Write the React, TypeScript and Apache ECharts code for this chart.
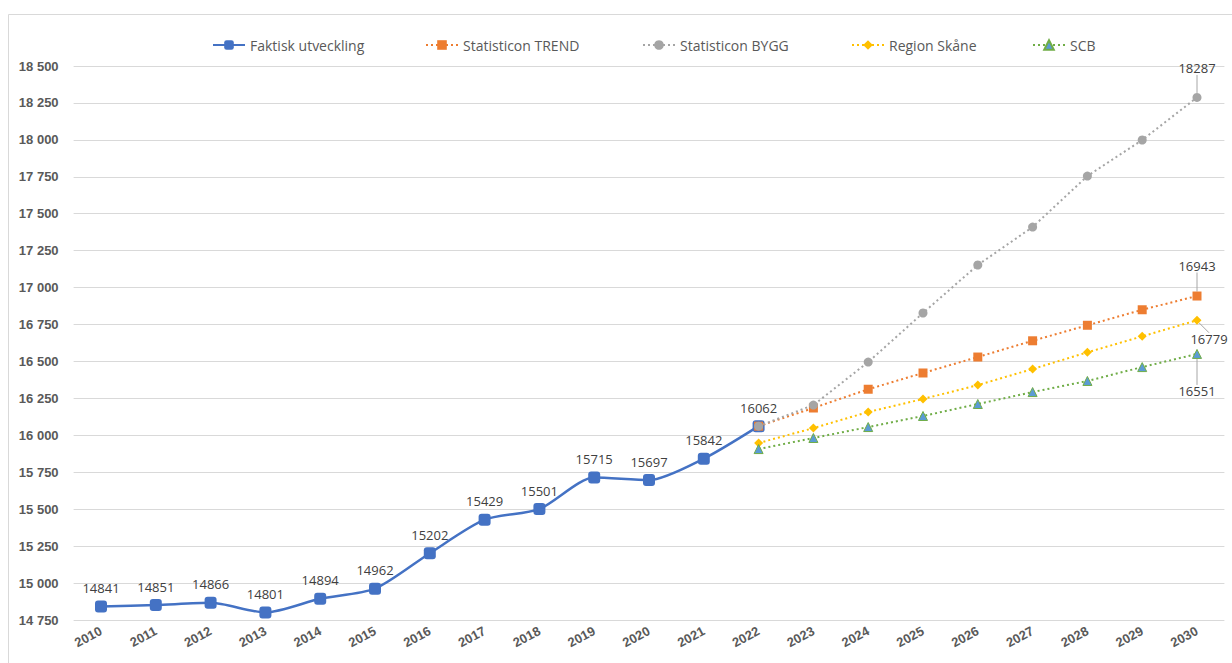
import React, { useEffect, useRef } from "react";
import * as echarts from "echarts";

const years = ["2010","2011","2012","2013","2014","2015","2016","2017","2018","2019","2020","2021","2022","2023","2024","2025","2026","2027","2028","2029","2030"];
const faktisk = [14841, 14851, 14866, 14801, 14894, 14962, 15202, 15429, 15501, 15715, 15697, 15842, 16062, null, null, null, null, null, null, null, null];
const pad = [null, null, null, null, null, null, null, null, null, null, null, null];
const trend = [...pad, 16062, 16185, 16312, 16422, 16530, 16640, 16745, 16850, 16943];
const bygg = [...pad, 16062, 16205, 16496, 16828, 17153, 17410, 17755, 17999, 18287];
const skane = [...pad, 15948, 16049, 16158, 16246, 16340, 16449, 16562, 16670, 16779];
const scb = [...pad, 15907, 15982, 16056, 16131, 16212, 16293, 16368, 16462, 16551];
const seriesNames = ["Faktisk utveckling", "Statisticon TREND", "Statisticon BYGG", "Region Skåne", "SCB"];
const legendLefts = [212, 425, 642, 851, 1032];

const font = "'Liberation Sans', Arial, sans-serif";
const labelFont = "'Open Sans', 'Liberation Sans', sans-serif";
const labelColor = "#404040";

function lastOnly(arr: (number | null)[], label: any) {
  return arr.map((v, i) => (i === arr.length - 1 ? { value: v, label } : v));
}

export default function App() {
  const ref = useRef<HTMLDivElement>(null);
  useEffect(() => {
    const chart = echarts.init(ref.current!, null, { renderer: "svg" });
    const dotted = (color: string) => ({ color, width: 2, type: [2, 3] as any });
    const endLabel = (position: string) => ({
      show: true,
      position,
      color: labelColor,
      fontSize: 13,
      fontFamily: labelFont,
    });
    const leader = { show: true, lineStyle: { color: "#a6a6a6", width: 1 } };
    chart.setOption({
      animation: false,
      textStyle: { fontFamily: font },
      graphic: [
        {
          type: "rect",
          shape: { x: 8.5, y: 14.5, width: 1300, height: 700 },
          style: { fill: "none", stroke: "#d9d9d9", lineWidth: 1 },
          silent: true,
        },
      ],
      legend: seriesNames.map((n, i) => ({
        top: 38,
        left: legendLefts[i],
        padding: 0,
        itemWidth: 32,
        itemHeight: 12,
        itemGap: 0,
        data: [n],
        textStyle: { color: "#595959", fontSize: 14, fontFamily: labelFont },
      })),
      grid: { left: 73.6, right: 7.6, top: 66, bottom: 43 },
      xAxis: {
        type: "category",
        data: years,
        boundaryGap: true,
        axisLine: { show: false },
        axisTick: { show: false },
        axisLabel: {
          rotate: 28,
          color: "#595959",
          fontWeight: "bold",
          fontSize: 13,
          fontFamily: font,
          margin: 10,
        },
      },
      yAxis: {
        type: "value",
        min: 14750,
        max: 18500,
        interval: 250,
        axisLine: { show: false },
        axisTick: { show: false },
        splitLine: { lineStyle: { color: "#d9d9d9", width: 1 } },
        axisLabel: {
          color: "#595959",
          fontWeight: "bold",
          fontSize: 13,
          fontFamily: font,
          margin: 15,
          formatter: (v: number) => String(v).replace(/\B(?=(\d{3})+(?!\d))/g, " "),
        },
      },
      series: [
        {
          name: seriesNames[0],
          type: "line",
          data: faktisk,
          smooth: 0.25,
          symbol: "roundRect",
          symbolSize: 12,
          color: "#4472c4",
          lineStyle: { color: "#4472c4", width: 2.5 },
          itemStyle: { color: "#4472c4" },
          label: { show: true, position: "top", distance: 6, color: labelColor, fontSize: 13, fontFamily: labelFont },
          z: 2,
        },
        {
          name: seriesNames[1],
          type: "line",
          data: lastOnly(trend, endLabel("top")),
          symbol: "rect",
          symbolSize: 9,
          color: "#ed7d31",
          lineStyle: dotted("#ed7d31"),
          itemStyle: { color: "#ed7d31" },
          labelLayout: { dy: -14 },
          labelLine: leader,
          z: 3,
        },
        {
          name: seriesNames[2],
          type: "line",
          data: lastOnly(bygg, endLabel("top")),
          symbol: "circle",
          symbolSize: 9,
          color: "#a5a5a5",
          lineStyle: dotted("#a5a5a5"),
          itemStyle: { color: "#a5a5a5" },
          labelLayout: { dy: -13 },
          labelLine: leader,
          z: 3,
        },
        {
          name: seriesNames[3],
          type: "line",
          data: lastOnly(skane, endLabel("bottom")),
          symbol: "diamond",
          symbolSize: 9,
          color: "#ffc000",
          lineStyle: dotted("#ffc000"),
          itemStyle: { color: "#ffc000" },
          labelLayout: { dx: 12, dy: 3 },
          labelLine: leader,
          z: 3,
        },
        {
          name: seriesNames[4],
          type: "line",
          data: lastOnly(scb, endLabel("bottom")),
          symbol: "triangle",
          symbolSize: 9,
          color: "#70ad47",
          lineStyle: dotted("#70ad47"),
          itemStyle: { color: "#5b9bd5", borderColor: "#70ad47", borderWidth: 1 },
          labelLayout: { dy: 21 },
          labelLine: leader,
          z: 3,
        },
      ],
    });
    return () => chart.dispose();
  }, []);
  return (
    <div
      ref={ref}
      style={{ position: "fixed", left: 0, top: 0, width: 1232, height: 663, background: "#fff" }}
    />
  );
}
